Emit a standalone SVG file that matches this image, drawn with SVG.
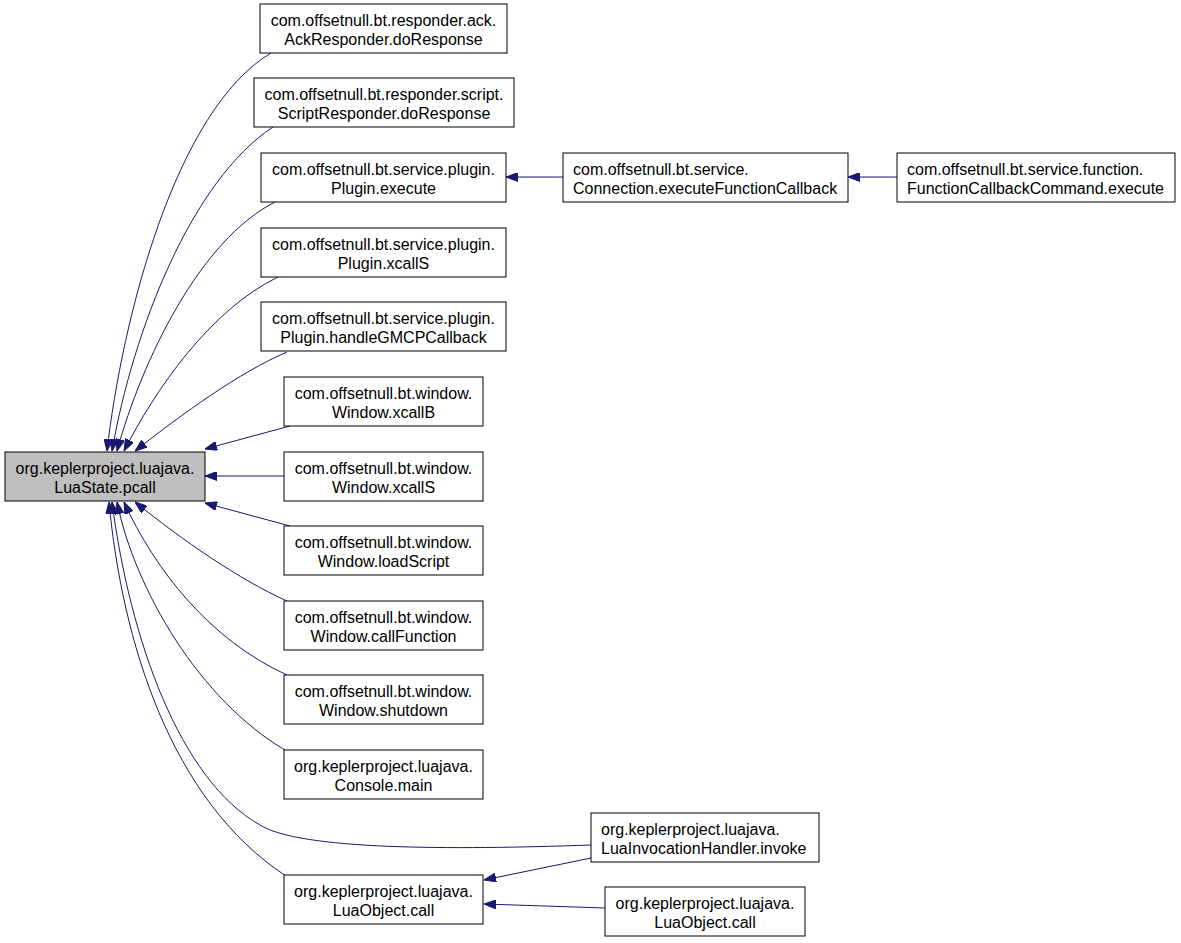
<svg xmlns="http://www.w3.org/2000/svg" width="1181" height="943" viewBox="0 0 1181 943">
<defs>
<marker id="ah" viewBox="0 0 12 9" refX="12" refY="4.5" markerWidth="12" markerHeight="9" markerUnits="userSpaceOnUse" orient="auto">
<polygon points="0,0 12,4.5 0,9" fill="#191970" stroke="#191970"/>
</marker>
</defs>
<style>
rect{fill:#fff;stroke:#000;stroke-width:1}
rect.main{fill:#bfbfbf}
text{font-family:"Liberation Sans",Arial,sans-serif;font-size:16px;fill:#000}
.c{text-anchor:middle}
#edges path{fill:none;stroke:#191970;stroke-width:1;marker-end:url(#ah)}
</style>
<rect width="1181" height="943" style="fill:#fff;stroke:none"/>
<g id="edges">
<path d="M271,53 C175,110 122,320 107,451"/>
<path d="M273,127 C192,180 133,330 112,451"/>
<path d="M275,202 C200,240 142,360 117,451"/>
<path d="M278,277 C210,310 155,390 124,451"/>
<path d="M287,352 C240,372 182,414 135,451"/>
<path d="M290,426 L205,449"/>
<path d="M284,476 L205,476"/>
<path d="M290,526 L205,503"/>
<path d="M287,601 C240,580 182,540 135,502"/>
<path d="M287,675 C210,640 155,570 124,502"/>
<path d="M285,750 C200,700 135,590 117,502"/>
<path d="M591,845 C450,850 300,850 260,825 C180,780 130,640 112,502"/>
<path d="M286,876 C170,800 122,640 109,502"/>
<path d="M563,177 L506,177"/>
<path d="M897,177 L848,177"/>
<path d="M591,858 L484,880"/>
<path d="M605,908 L484,904"/>
</g>
<g id="n0"><rect class="main" x="5" y="452" width="200" height="49"/><text class="c" x="105" y="474">org.keplerproject.luajava.</text><text class="c" x="105" y="493">LuaState.pcall</text></g>
<g id="n1"><rect x="260" y="4" width="247" height="49"/><text class="c" x="383.5" y="26">com.offsetnull.bt.responder.ack.</text><text class="c" x="383.5" y="45">AckResponder.doResponse</text></g>
<g id="n2"><rect x="254" y="78" width="260" height="49"/><text class="c" x="384" y="100">com.offsetnull.bt.responder.script.</text><text class="c" x="384" y="119">ScriptResponder.doResponse</text></g>
<g id="n3"><rect x="261" y="153" width="245" height="49"/><text class="c" x="383.5" y="175">com.offsetnull.bt.service.plugin.</text><text class="c" x="383.5" y="194">Plugin.execute</text></g>
<g id="n4"><rect x="261" y="228" width="245" height="49"/><text class="c" x="383.5" y="250">com.offsetnull.bt.service.plugin.</text><text class="c" x="383.5" y="269">Plugin.xcallS</text></g>
<g id="n5"><rect x="261" y="302" width="245" height="49"/><text class="c" x="383.5" y="324">com.offsetnull.bt.service.plugin.</text><text class="c" x="383.5" y="343">Plugin.handleGMCPCallback</text></g>
<g id="n6"><rect x="284" y="377" width="199" height="49"/><text class="c" x="383.5" y="399">com.offsetnull.bt.window.</text><text class="c" x="383.5" y="418">Window.xcallB</text></g>
<g id="n7"><rect x="284" y="452" width="199" height="49"/><text class="c" x="383.5" y="474">com.offsetnull.bt.window.</text><text class="c" x="383.5" y="493">Window.xcallS</text></g>
<g id="n8"><rect x="284" y="526" width="199" height="49"/><text class="c" x="383.5" y="548">com.offsetnull.bt.window.</text><text class="c" x="383.5" y="567">Window.loadScript</text></g>
<g id="n9"><rect x="284" y="601" width="199" height="49"/><text class="c" x="383.5" y="623">com.offsetnull.bt.window.</text><text class="c" x="383.5" y="642">Window.callFunction</text></g>
<g id="n10"><rect x="284" y="675" width="199" height="49"/><text class="c" x="383.5" y="697">com.offsetnull.bt.window.</text><text class="c" x="383.5" y="716">Window.shutdown</text></g>
<g id="n11"><rect x="284" y="750" width="199" height="49"/><text class="c" x="383.5" y="772">org.keplerproject.luajava.</text><text class="c" x="383.5" y="791">Console.main</text></g>
<g id="n12"><rect x="284" y="875" width="199" height="49"/><text class="c" x="383.5" y="897">org.keplerproject.luajava.</text><text class="c" x="383.5" y="916">LuaObject.call</text></g>
<g id="n13"><rect x="563" y="153" width="285" height="49"/><text x="573" y="175">com.offsetnull.bt.service.</text><text x="573" y="194">Connection.executeFunctionCallback</text></g>
<g id="n14"><rect x="897" y="153" width="278" height="49"/><text x="907" y="175">com.offsetnull.bt.service.function.</text><text x="907" y="194">FunctionCallbackCommand.execute</text></g>
<g id="n15"><rect x="591" y="813" width="228" height="49"/><text x="601" y="835">org.keplerproject.luajava.</text><text x="601" y="854">LuaInvocationHandler.invoke</text></g>
<g id="n16"><rect x="605" y="887" width="200" height="49"/><text class="c" x="705" y="909">org.keplerproject.luajava.</text><text class="c" x="705" y="928">LuaObject.call</text></g>
</svg>
